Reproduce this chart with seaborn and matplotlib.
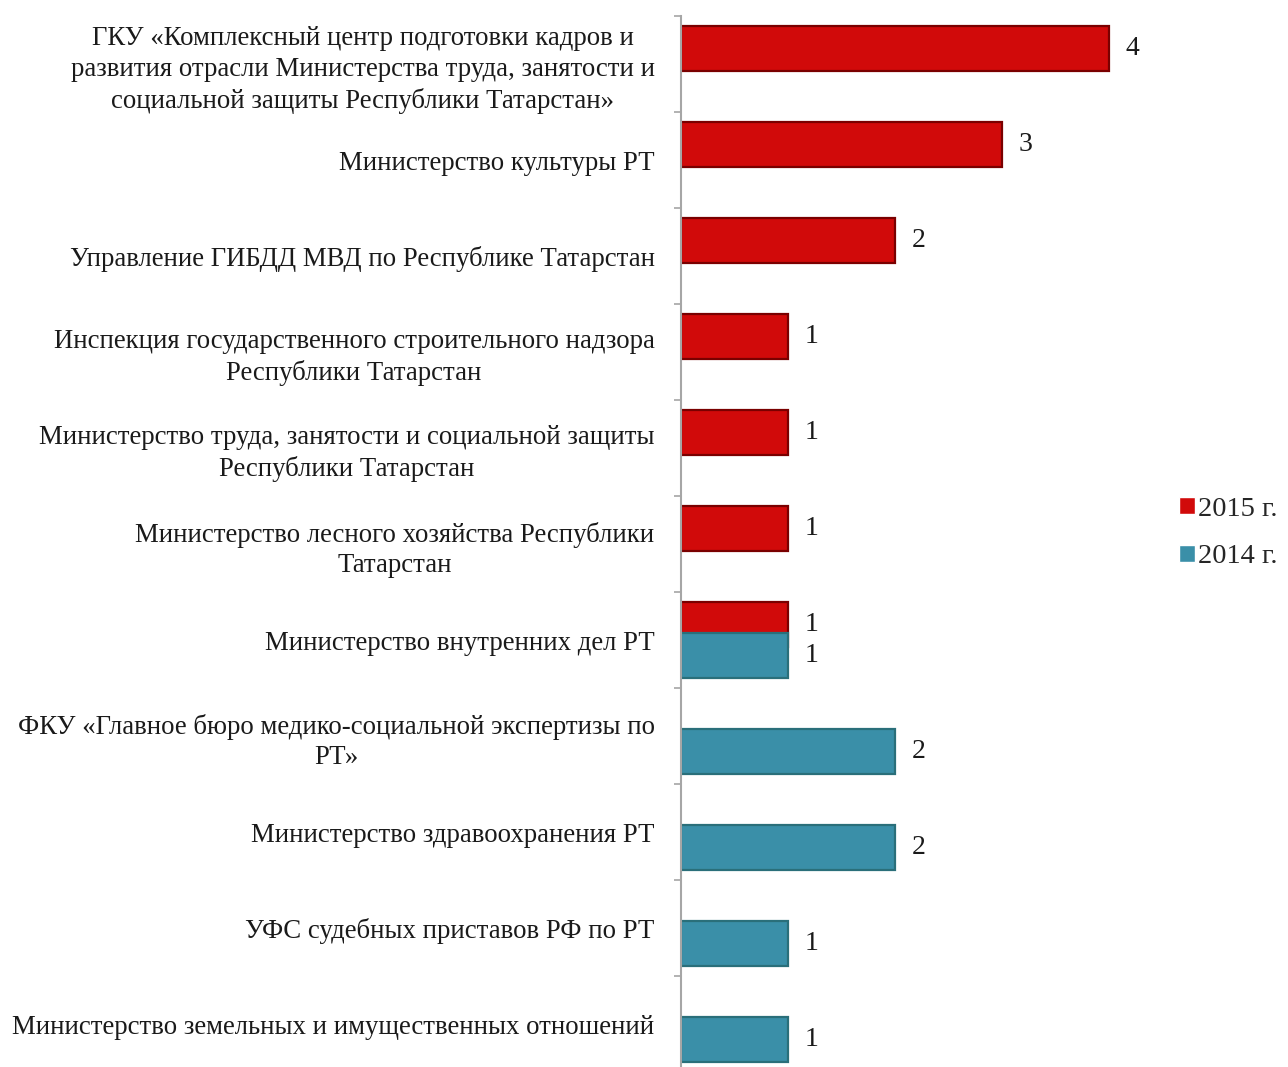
import numpy as np
import pandas as pd
import matplotlib
matplotlib.use("Agg")
import matplotlib.pyplot as plt
import seaborn as sns
from matplotlib.ticker import FixedLocator

categories = [
    "ГКУ «Комплексный центр подготовки кадров и\nразвития отрасли Министерства труда, занятости и\nсоциальной защиты Республики Татарстан»",
    "Министерство культуры РТ",
    "Управление ГИБДД МВД по Республике Татарстан",
    "Инспекция государственного строительного надзора\nРеспублики Татарстан",
    "Министерство труда, занятости и социальной защиты\nРеспублики Татарстан",
    "Министерство лесного хозяйства Республики\nТатарстан",
    "Министерство внутренних дел РТ",
    "ФКУ «Главное бюро медико-социальной экспертизы по\nРТ»",
    "Министерство здравоохранения РТ",
    "УФС судебных приставов РФ по РТ",
    "Министерство земельных и имущественных отношений",
]
values_2015 = [4, 3, 2, 1, 1, 1, 1, None, None, None, None]
values_2014 = [None, None, None, None, None, None, 1, 2, 2, 1, 1]
series = ["2015 г.", "2014 г."]
colors = ["#d10a0a", "#3a8fa8"]
edges = ["#7a0000", "#2a6f7a"]

rows = []
for c, v15, v14 in zip(categories, values_2015, values_2014):
    if v15 is not None:
        rows.append((c, series[0], v15))
    if v14 is not None:
        rows.append((c, series[1], v14))
df = pd.DataFrame(rows, columns=["cat", "year", "val"])

sns.set_theme(style="white")
plt.rcParams["font.family"] = ["Liberation Serif", "DejaVu Serif"]

fig = plt.figure(figsize=(12.88, 10.67), dpi=100)
W, H = 1288, 1067
ax = fig.add_axes([681 / W, (H - 16 - 1056) / H, 471 / W, 1056 / H])

sns.barplot(data=df, y="cat", x="val", hue="year", order=categories,
            hue_order=series, palette=colors, orient="h", dodge=True,
            width=0.64, gap=-0.47, errorbar=None, ax=ax, saturation=1)

for cont, ec in zip(ax.containers, edges):
    for p in cont.patches:
        p.set_edgecolor(ec)
        p.set_linewidth(1.6)
    ax.bar_label(cont, fmt="%g", padding=12, fontsize=20, color="#1a1a1a")

ax.set_xlim(0, 4.4)
ax.set_ylim(len(categories) - 0.5, -0.5)
ax.set_xlabel("")
ax.set_ylabel("")
ax.xaxis.set_visible(False)
for s in ["top", "right", "bottom"]:
    ax.spines[s].set_visible(False)
ax.spines["left"].set_color("#a6a6a6")
ax.spines["left"].set_linewidth(1.5)

ax.yaxis.set_minor_locator(FixedLocator(np.arange(-0.5, len(categories), 1.0)))
ax.tick_params(axis="y", which="major", length=0, pad=19, labelsize=19.3,
               labelcolor="#1a1a1a")
ax.tick_params(axis="y", which="minor", length=5, width=1.2, color="#a6a6a6",
               left=True)
for lab in ax.get_yticklabels():
    lab.set_multialignment("center")
    lab.set_linespacing(1.3)

handles, labels = ax.get_legend_handles_labels()
ax.get_legend().remove()
fig.legend(handles, labels, loc="center left", bbox_to_anchor=(1168 / W, 1 - 533 / H),
           frameon=False, fontsize=20.5, handlelength=0.55, handleheight=0.55,
           handletextpad=0.12, labelspacing=0.8, borderaxespad=0)

fig.savefig("out.png", dpi=100, facecolor="white")
